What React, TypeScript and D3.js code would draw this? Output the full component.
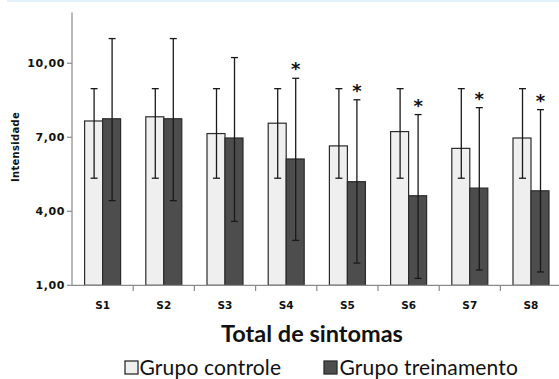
import React from 'react';
import * as d3 from 'd3';

// symptoms on the x axis
const sintomas = ['S1', 'S2', 'S3', 'S4', 'S5', 'S6', 'S7', 'S8'];
// mean intensity per group
const controle = [7.66, 7.83, 7.15, 7.57, 6.65, 7.23, 6.55, 6.97];
const treinamento = [7.75, 7.75, 6.97, 6.12, 5.2, 4.63, 4.94, 4.83];
// error bar limits (low, high)
const controleLow = [5.34, 5.34, 5.34, 5.34, 5.34, 5.34, 5.34, 5.34];
const controleHigh = [8.97, 8.97, 8.97, 8.97, 8.97, 8.97, 8.97, 8.97];
const treinamentoLow = [4.43, 4.43, 3.59, 2.82, 1.9, 1.28, 1.62, 1.54];
const treinamentoHigh = [11.0, 11.0, 10.23, 9.39, 8.52, 7.92, 8.2, 8.12];
// significance marks
const significativo = [false, false, false, true, true, true, true, true];
const yTicks = [1, 4, 7, 10];

const W = 559;
const H = 379;

export default function App() {
  const x = d3.scaleBand<string>().domain(sintomas).range([72, 561.6]).padding(0);
  const y = d3.scaleLinear().domain([1, 12]).range([285.3, 13.9]);
  const bw = x.bandwidth();
  const barW = 18;
  const fmt = (v: number) => d3.format('.2f')(v).replace('.', ',');

  const series = [
    { name: 'Grupo controle', vals: controle, lo: controleLow, hi: controleHigh, fill: '#efefef', off: -barW },
    { name: 'Grupo treinamento', vals: treinamento, lo: treinamentoLow, hi: treinamentoHigh, fill: '#4d4d4d', off: 0 },
  ];

  return (
    <svg width={W} height={H} style={{ position: 'absolute', left: 0, top: 0, background: '#fff' }}>
      <rect x={7} y={0} width={W - 7} height={2} fill="#e2f1fb" />

      {/* bars */}
      {series.map((s) =>
        sintomas.map((c, i) => {
          const bx = (x(c) as number) + bw / 2 + s.off;
          return (
            <rect
              key={s.name + c}
              x={bx}
              y={y(s.vals[i])}
              width={barW}
              height={y(1) - y(s.vals[i])}
              fill={s.fill}
              stroke="#2b2b2b"
              strokeWidth={1.2}
            />
          );
        })
      )}

      {/* error bars */}
      {series.map((s) =>
        sintomas.map((c, i) => {
          const cx = (x(c) as number) + bw / 2 + s.off + barW / 2 + 0.5;
          return (
            <g key={'e' + s.name + c} stroke="#1a1a1a" strokeWidth={1.3}>
              <line x1={cx} x2={cx} y1={y(s.hi[i])} y2={y(s.lo[i])} />
              <line x1={cx - 3.5} x2={cx + 3.5} y1={y(s.hi[i])} y2={y(s.hi[i])} />
              <line x1={cx - 3.5} x2={cx + 3.5} y1={y(s.lo[i])} y2={y(s.lo[i])} />
            </g>
          );
        })
      )}

      {/* significance stars */}
      {sintomas.map((c, i) =>
        significativo[i] ? (
          <text
            key={'s' + c}
            x={(x(c) as number) + bw / 2 + barW / 2 + 0.5}
            y={y(treinamentoHigh[i]) - 3}
            textAnchor="middle"
            fontFamily="DejaVu Sans"
            fontWeight="bold"
            fontSize={18}
            fill="#111"
          >
            *
          </text>
        ) : null
      )}

      {/* y axis */}
      <line x1={72} x2={72} y1={12.5} y2={285.3} stroke="#8a8a8a" strokeWidth={1.2} />
      {yTicks.map((t) => (
        <g key={'yt' + t}>
          <line x1={67} x2={72} y1={y(t)} y2={y(t)} stroke="#8a8a8a" strokeWidth={1.2} />
          <text
            x={65}
            y={y(t) + 4}
            textAnchor="end"
            fontFamily="DejaVu Sans"
            fontWeight="bold"
            fontSize={11}
            letterSpacing={0.6}
            fill="#111"
          >
            {fmt(t)}
          </text>
        </g>
      ))}

      {/* x axis */}
      <line x1={72} x2={W} y1={285.3} y2={285.3} stroke="#8a8a8a" strokeWidth={1.2} />
      {sintomas.map((c) => (
        <g key={'xt' + c}>
          <line x1={(x(c) as number) + bw} x2={(x(c) as number) + bw} y1={285.3} y2={291} stroke="#8a8a8a" strokeWidth={1.2} />
          <text
            x={(x(c) as number) + bw / 2}
            y={309}
            textAnchor="middle"
            fontFamily="DejaVu Sans"
            fontWeight="bold"
            fontSize={10.5}
            fill="#111"
          >
            {c}
          </text>
        </g>
      ))}

      <text
        transform="translate(19,147) rotate(-90)"
        textAnchor="middle"
        fontFamily="DejaVu Sans"
        fontWeight="bold"
        fontSize={10}
        letterSpacing={0.3}
        fill="#111"
      >
        Intensidade
      </text>

      <text x={312} y={342} textAnchor="middle" fontFamily="Lato" fontWeight="bold" fontSize={23.5} fill="#111">
        Total de sintomas
      </text>

      {/* legend */}
      <rect x={125} y={361} width={13} height={13} fill="#efefef" stroke="#2b2b2b" strokeWidth={1.3} />
      <text x={139.5} y={374.5} fontFamily="Lato" fontSize={21} letterSpacing={0.15} fill="#111">
        Grupo controle
      </text>
      <rect x={324} y={361} width={13} height={13} fill="#4d4d4d" stroke="#2b2b2b" strokeWidth={1.3} />
      <text x={339.5} y={374.5} fontFamily="Lato" fontSize={21} letterSpacing={0.15} fill="#111">
        Grupo treinamento
      </text>
    </svg>
  );
}
